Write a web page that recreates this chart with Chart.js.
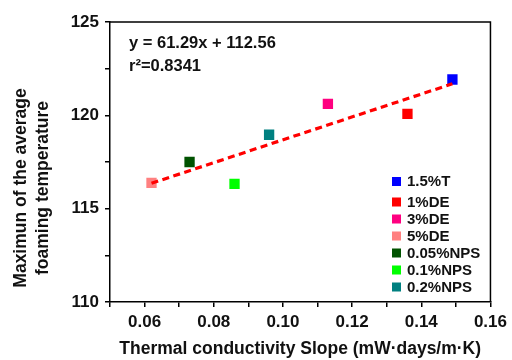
<!DOCTYPE html>
<html>
<head>
<meta charset="utf-8">
<script src="https://cdn.jsdelivr.net/npm/chart.js@4/dist/chart.umd.min.js"></script>
<style>
html,body{margin:0;padding:0;background:#fff;}
#wrap{width:512px;height:360px;position:relative;}
</style>
</head>
<body>
<div id="wrap"><canvas id="c" width="512" height="360"></canvas></div>
<script>
const categories = ['1.5%T','1%DE','3%DE','5%DE','0.05%NPS','0.1%NPS','0.2%NPS'];
const slopeValues = [0.149, 0.136, 0.113, 0.062, 0.073, 0.086, 0.096];
const tempValues = [121.92, 120.08, 120.61, 116.38, 117.5, 116.33, 118.96];
const seriesColors = ['#0000FF','#FF0000','#FF0080','#FF8080','#005200','#00FF00','#008080'];
const fitX = [0.062, 0.149];
const fitY = [116.36, 121.69];
const xTickLabels = ['0.06','0.08','0.10','0.12','0.14','0.16'];
const yTickLabels = ['110','115','120','125'];
const equationLines = ['y = 61.29x + 112.56', 'r\u00B2=0.8341'];
const xTitle = 'Thermal conductivity Slope (mW\u00B7days/m\u00B7K)';
const yTitleLines = ['Maximun of the average', 'foaming temperature'];

const FONT = '"Liberation Sans", Arial, sans-serif';

const datasets = categories.map((c, i) => ({
  type: 'scatter',
  label: c,
  data: [{x: slopeValues[i], y: tempValues[i]}],
  backgroundColor: seriesColors[i],
  borderColor: seriesColors[i],
  borderWidth: 0,
  pointStyle: 'rect',
  pointRadius: 7.3,
  pointHoverRadius: 7.3,
  order: 1
}));
datasets.push({
  type: 'line',
  label: 'fit',
  data: fitX.map((x, i) => ({x, y: fitY[i]})),
  borderColor: '#FF0000',
  borderWidth: 3.2,
  borderDash: [7, 4.5],
  pointRadius: 0,
  fill: false,
  order: 0
});

function labelFor(list, v) {
  for (const l of list) if (Math.abs(parseFloat(l) - v) < 1e-6) return l;
  return '';
}

const overlay = {
  id: 'overlay',
  afterDraw(chart) {
    const ctx = chart.ctx;
    const a = chart.chartArea;
    ctx.save();
    ctx.strokeStyle = '#000';
    ctx.lineWidth = 1.5;
    ctx.beginPath();
    ctx.moveTo(a.left, a.top);
    ctx.lineTo(a.right, a.top);
    ctx.lineTo(a.right, a.bottom);
    ctx.stroke();
    ctx.fillStyle = '#111';
    ctx.font = 'bold 16.5px ' + FONT;
    ctx.textBaseline = 'middle';
    ctx.textAlign = 'left';
    ctx.fillText(equationLines[0], 129, 43.5);
    ctx.fillText(equationLines[1], 129, 66.5);
    const rows = [181.5, 202, 219, 236, 253, 270, 287];
    ctx.font = 'bold 15px ' + FONT;
    categories.forEach((c, i) => {
      ctx.fillStyle = seriesColors[i];
      ctx.fillRect(392, rows[i] - 4.5, 9, 9);
      ctx.fillStyle = '#111';
      ctx.fillText(c, 407, rows[i] + 0.5);
    });
    ctx.font = 'bold 17.5px ' + FONT;
    ctx.textAlign = 'center';
    ctx.fillStyle = '#111';
    ctx.translate(0, 188);
    ctx.rotate(-Math.PI / 2);
    ctx.fillText(yTitleLines[0], 0, 21.5);
    ctx.fillText(yTitleLines[1], 0, 43.5);
    ctx.restore();
  }
};

new Chart(document.getElementById('c'), {
  data: {datasets},
  options: {
    responsive: false,
    animation: false,
    devicePixelRatio: 1,
    layout: {padding: {top: 22, right: 20, left: 0, bottom: 0}},
    plugins: {legend: {display: false}, tooltip: {enabled: false}},
    scales: {
      x: {
        type: 'linear', min: 0.05, max: 0.16,
        afterFit: s => { s.height = 58; },
        ticks: {
          stepSize: 0.01, autoSkip: false, maxRotation: 0, padding: 5,
          color: '#111', font: {family: FONT, size: 17, weight: 'bold'},
          callback: v => labelFor(xTickLabels, v)
        },
        grid: {drawOnChartArea: false, drawTicks: true, tickLength: 5, color: '#000', lineWidth: 1.5},
        border: {color: '#000', width: 1.5},
        title: {display: true, text: xTitle, color: '#111', font: {family: FONT, size: 17.5, weight: 'bold'}, padding: {top: 0, bottom: 0}}
      },
      y: {
        type: 'linear', min: 110, max: 125,
        afterFit: s => { s.width = 110; },
        ticks: {
          stepSize: 2.5, autoSkip: false, padding: 6,
          color: '#111', font: {family: FONT, size: 17, weight: 'bold'},
          callback: v => labelFor(yTickLabels, v)
        },
        grid: {drawOnChartArea: false, drawTicks: true, tickLength: 5, color: '#000', lineWidth: 1.5},
        border: {color: '#000', width: 1.5}
      }
    }
  },
  plugins: [overlay]
});
</script>
</body>
</html>
